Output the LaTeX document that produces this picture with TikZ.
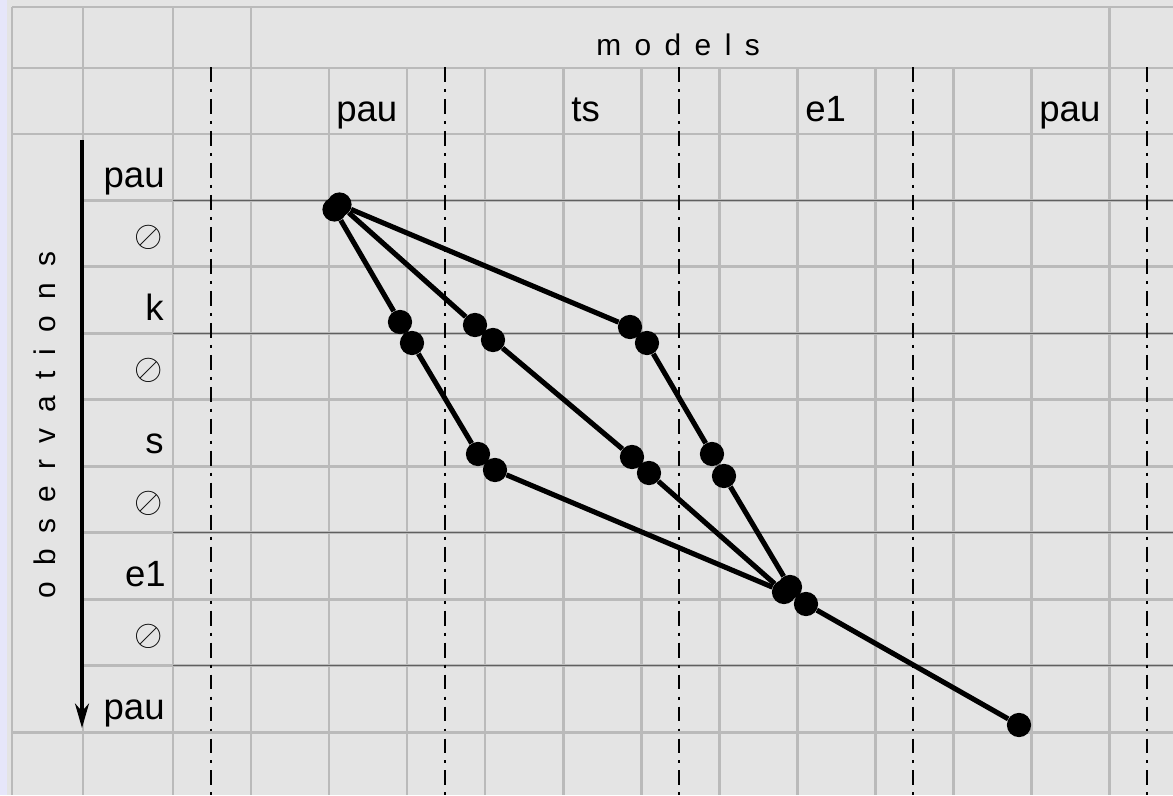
\documentclass[tikz,border=0pt]{standalone}
\usepackage{fontspec}
\setmainfont{Liberation Sans}
\newfontfamily\modelsfont[LetterSpace=45]{Liberation Sans}
\newfontfamily\obsfont[LetterSpace=54]{Liberation Sans}
\usepackage{tikz}
\usetikzlibrary{arrows.meta}
\definecolor{paper}{RGB}{228,228,228}
\definecolor{lavender}{RGB}{230,230,250}
\definecolor{gridgray}{RGB}{186,186,186}
\definecolor{rulegray}{RGB}{95,95,95}

\begin{document}
\begin{tikzpicture}[
  x=0.02cm, y=-0.02cm,
  cell/.style={gridgray, line width=1.7pt},
  thinrule/.style={rulegray, line width=0.6pt},
  sep/.style={line width=1.2pt, dash pattern=on 8.5pt off 4pt on 1.7pt off 4pt},
  state/.style={circle, fill=black, inner sep=0pt, minimum size=13.8pt},
  link/.style={line width=2.9pt},
  rowlab/.style={anchor=base east, inner sep=0pt, font=\fontsize{20.8}{24}\selectfont},
  collab/.style={anchor=base west, inner sep=0pt, font=\fontsize{20.8}{24}\selectfont},
  nulllab/.style={anchor=east, inner sep=0pt, font=\fontsize{22}{26}\selectfont}
]
\useasboundingbox (0,0) rectangle (1173,795);
\fill[lavender] (0,0) rectangle (7,795);
\fill[paper] (7,0) rectangle (1173,795);

\foreach \y in {7,68,134,732} \draw[cell] (12,\y) -- (1173,\y);
\foreach \k in {1,...,8} \draw[cell] (83,{134+66.44*\k}) -- (1173,{134+66.44*\k});
\foreach \x in {12,83,173,251,1109} \draw[cell] (\x,7) -- (\x,795);
\foreach \x in {329,407,...,1031} \draw[cell] (\x,68) -- (\x,795);
\foreach \k in {1,3,6,8} \draw[thinrule] (173,{134+66.44*\k}) -- (1173,{134+66.44*\k});
\foreach \x in {211,445,...,1147} \draw[sep] (\x,67) -- (\x,795);

\node[anchor=base west, inner sep=0pt, font=\fontsize{17}{20}\selectfont\modelsfont] (models) at (596,55) {models};
\node[anchor=base west, inner sep=0pt, rotate=90, font=\fontsize{17}{20}\selectfont\obsfont] (observations) at (55,599) {observations};

\node[collab] (mpau1) at (336,121.5) {pau};
\node[collab] (mts) at (571,121.5) {ts};
\node[collab] (me1) at (805,121.5) {e1};
\node[collab] (mpau2) at (1039,121.5) {pau};

\node[rowlab] (opau1) at (165,187.9) {pau};
\node[nulllab] (onull1) at (163,237.5) {$\oslash$};
\node[rowlab] (ok) at (164,320.8) {k};
\node[nulllab] (onull2) at (163,370.3) {$\oslash$};
\node[rowlab] (os) at (164,453.7) {s};
\node[nulllab] (onull3) at (163,503.2) {$\oslash$};
\node[rowlab] (oe1) at (166,586.6) {e1};
\node[nulllab] (onull4) at (163,636.1) {$\oslash$};
\node[rowlab] (opau2) at (165,719.5) {pau};

\coordinate (obstop) at (82,140);
\coordinate (obsbot) at (82,728);
\draw[line width=1.8pt, -{Stealth[length=14pt, width=8pt, inset=4.5pt]}] (obstop) -- (obsbot);

\node[state] (st1) at (334.5,209.5) {};
\node[state] (st2) at (339.5,204.5) {};
\node[state] (la1) at (400,322) {};
\node[state] (la2) at (412,343) {};
\node[state] (la3) at (478,454) {};
\node[state] (la4) at (495,470) {};
\node[state] (mi1) at (475,325) {};
\node[state] (mi2) at (493,340) {};
\node[state] (mi3) at (632,457) {};
\node[state] (mi4) at (649,473) {};
\node[state] (ri1) at (630,327) {};
\node[state] (ri2) at (647,343) {};
\node[state] (ri3) at (712,454) {};
\node[state] (ri4) at (724,476) {};
\node[state] (jn1) at (784,592) {};
\node[state] (jn2) at (790,587) {};
\node[state] (jn3) at (806,604) {};
\node[state] (fin) at (1019,725) {};

\draw[link] (st1) -- (la1) -- (la2) -- (la3) -- (la4) -- (jn1);
\draw[link] (st2) -- (mi1) -- (mi2) -- (mi3) -- (mi4) -- (jn1);
\draw[link] (st2) -- (ri1) -- (ri2) -- (ri3) -- (ri4) -- (jn2);
\draw[link] (jn2) -- (jn3) -- (fin);

\end{tikzpicture}
\end{document}
